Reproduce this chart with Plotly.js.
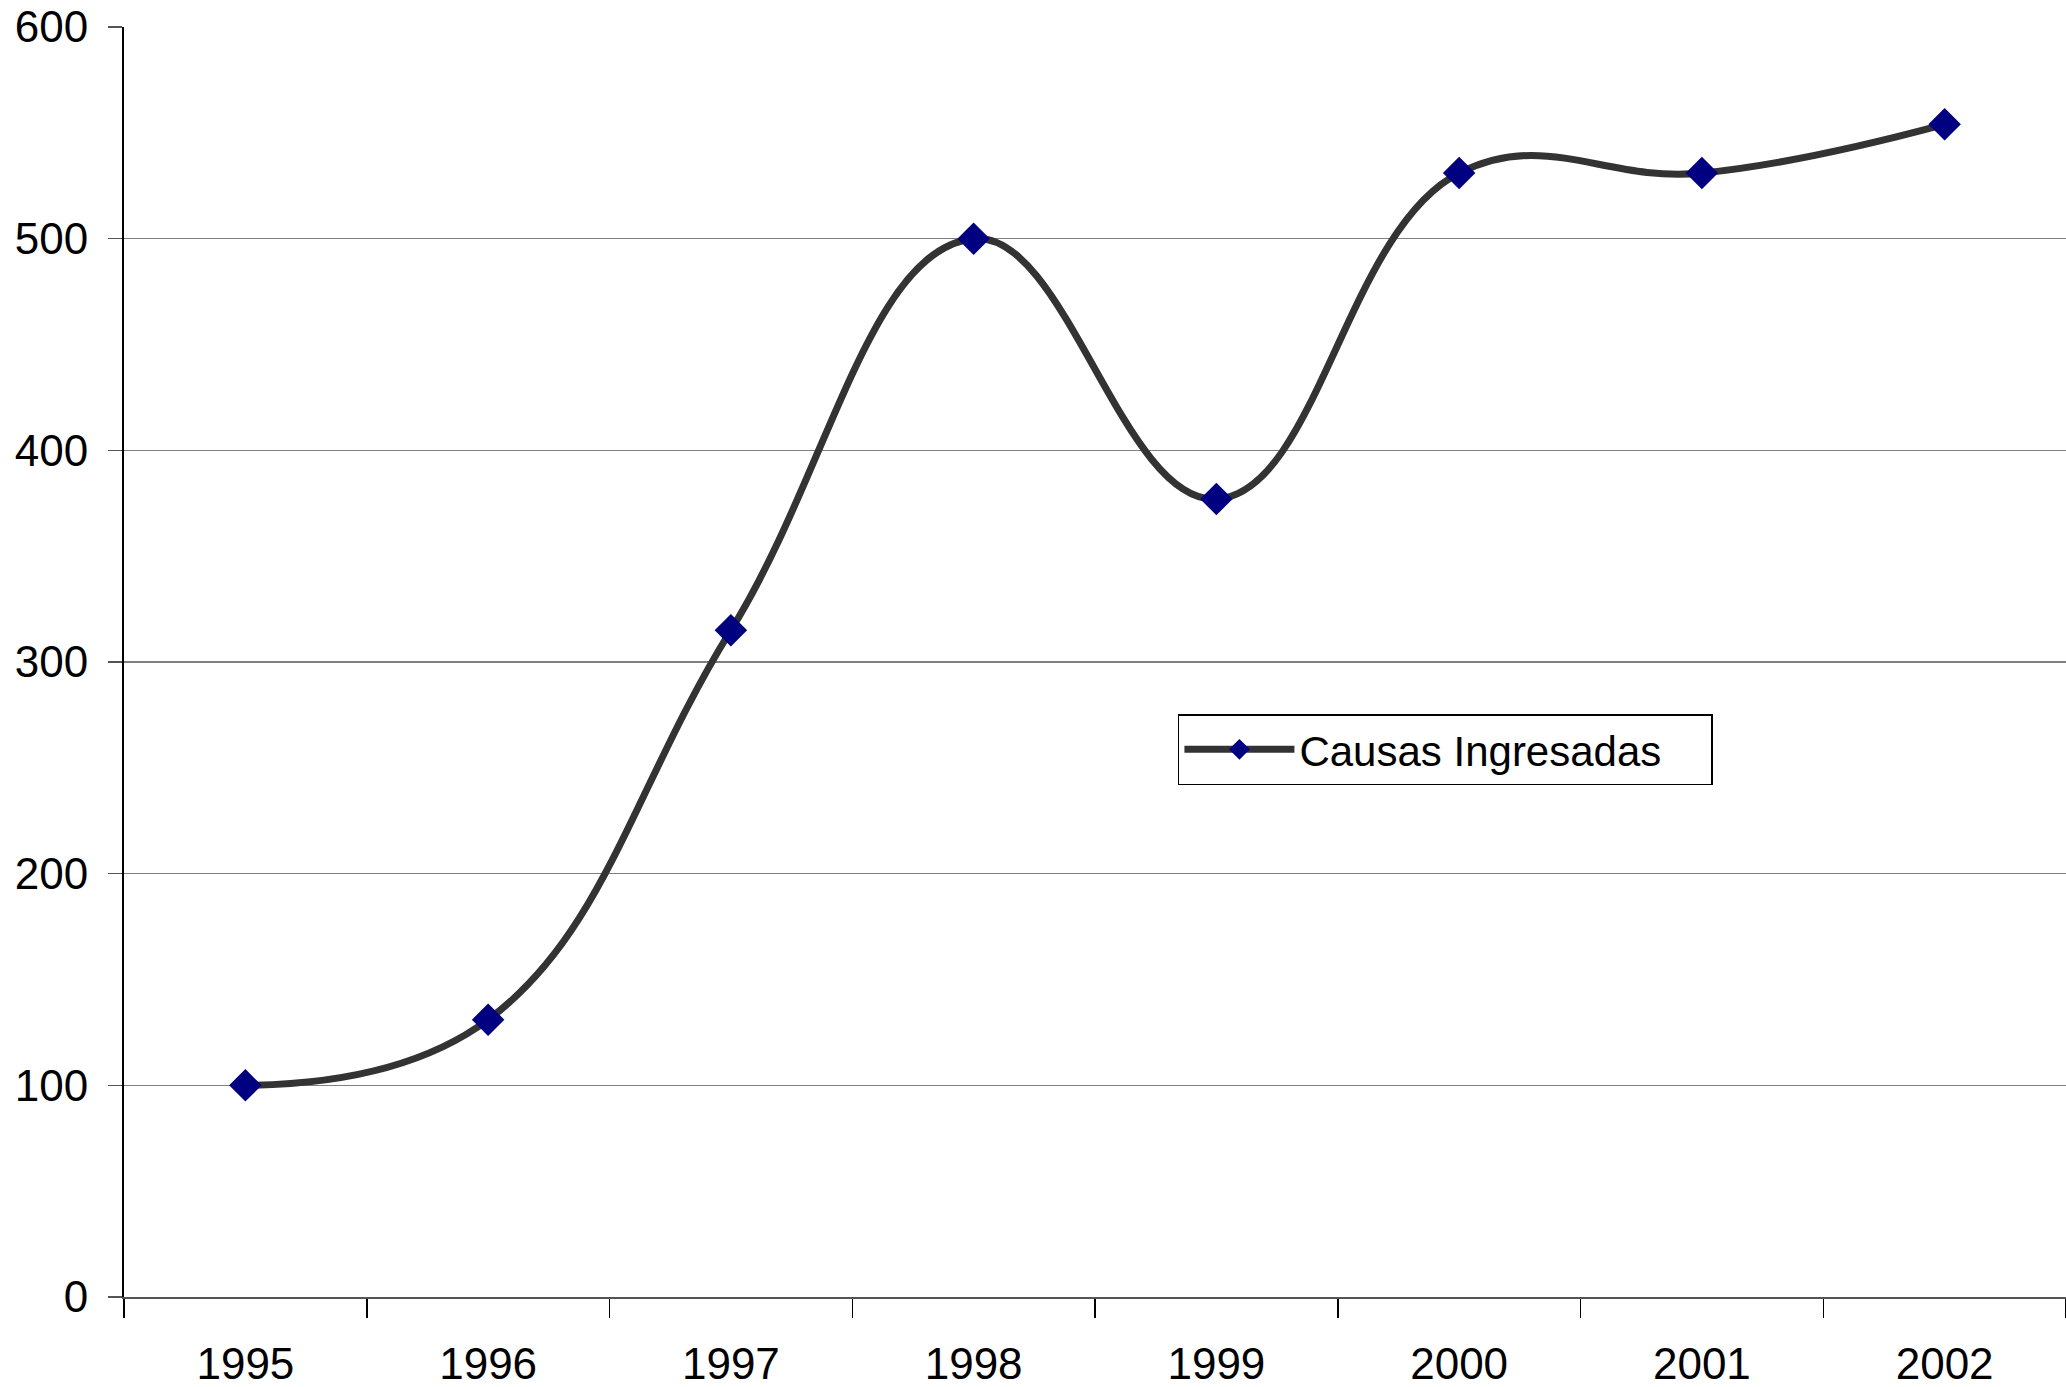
<!DOCTYPE html>
<html>
<head>
<meta charset="utf-8">
<script src="https://cdn.plot.ly/plotly-3.0.1.min.js"></script>
<style>
html,body{margin:0;padding:0;background:#fff;}
#chart{width:2066px;height:1387px;}
</style>
</head>
<body>
<div id="chart"></div>
<script>
const years = ["1995","1996","1997","1998","1999","2000","2001","2002"];
const causasIngresadas = [100, 131, 315, 500, 377, 531, 531, 554];
const seriesName = "Causas Ingresadas";
const yTicks = [0, 100, 200, 300, 400, 500, 600];

const font = {family: "Arial, 'Liberation Sans', sans-serif", size: 44, color: "#000"};

const trace = {
  x: years,
  y: causasIngresadas,
  name: seriesName,
  type: "scatter",
  mode: "lines+markers",
  line: {color: "#333333", width: 7, shape: "spline", smoothing: 1.2},
  marker: {symbol: "diamond", color: "#000080", size: 25, line: {width: 0}},
  showlegend: true
};

const layout = {
  width: 2066,
  height: 1387,
  margin: {l: 124, r: 0, t: 27, b: 90, pad: 0},
  paper_bgcolor: "#ffffff",
  plot_bgcolor: "#ffffff",
  font: font,
  showlegend: true,
  xaxis: {
    type: "category",
    range: [-0.5, 7.5],
    tickson: "boundaries",
    ticks: "outside",
    ticklen: 19,
    tickwidth: 1.5,
    tickcolor: "#000",
    showgrid: false,
    showline: true,
    linecolor: "#555",
    linewidth: 2,
    zeroline: false,
    tickfont: font,
    ticklabelstandoff: 27,
    fixedrange: true
  },
  yaxis: {
    range: [0, 600],
    tickvals: yTicks,
    ticktext: yTicks.map(String),
    ticks: "outside",
    ticklen: 14,
    tickwidth: 1.5,
    tickcolor: "#555",
    showgrid: true,
    gridcolor: "#808080",
    gridwidth: 1.5,
    showline: true,
    linecolor: "#000",
    linewidth: 2,
    zeroline: false,
    tickfont: font,
    ticklabelstandoff: 11,
    fixedrange: true
  },
  legend: {
    orientation: "h",
    x: 0.5427,
    y: 0.459,
    xanchor: "left",
    yanchor: "top",
    bgcolor: "#ffffff",
    bordercolor: "#000",
    borderwidth: 1.5,
    font: {family: font.family, size: 42, color: "#000"},
    itemwidth: 110,
    itemsizing: "trace",
    entrywidth: 407,
    entrywidthmode: "pixels"
  }
};

Plotly.newPlot("chart", [trace], layout, {staticPlot: true, displayModeBar: false});
</script>
</body>
</html>
